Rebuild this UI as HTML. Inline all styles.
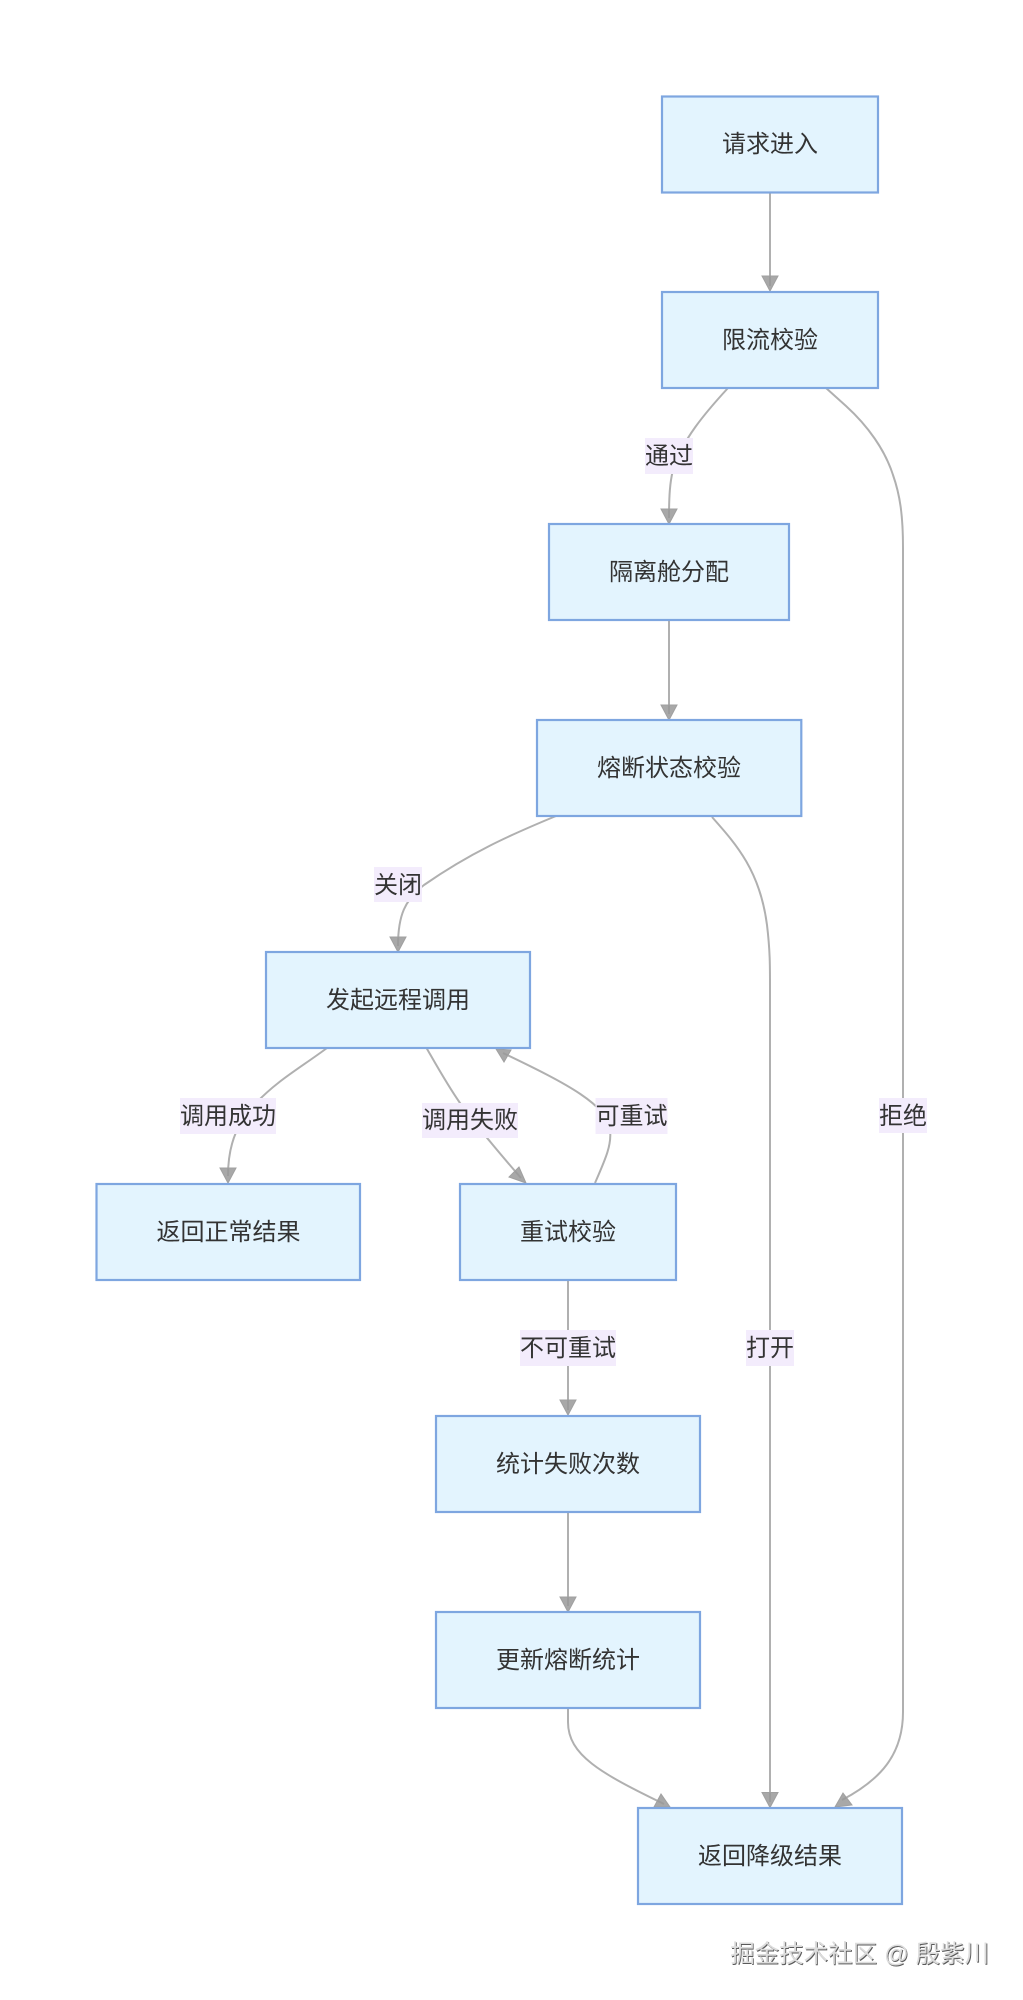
<!DOCTYPE html>
<html><head><meta charset="utf-8">
<style>
html,body{margin:0;padding:0;background:#fff;width:1023px;height:2000px;overflow:hidden}
svg{display:block}
text{font-family:"Liberation Sans","Noto Sans CJK SC",sans-serif;font-size:24px;fill:#333;text-anchor:middle}
.n{fill:#e3f4fe;stroke:#7ea6e0;stroke-width:2.2}
.e{fill:none;stroke:#b0b0b0;stroke-width:2}
.a{fill:#999;fill-opacity:.85;stroke:#a0a0a0;stroke-width:1}
.l{fill:#f3ecfc}
.w{font-size:24.5px;fill:#dcdcdc;text-anchor:start}
.ws{font-size:24.5px;fill:#5a5a5a;text-anchor:start}
</style></head><body>
<svg width="1023" height="2000" viewBox="0 0 1023 2000" xmlns="http://www.w3.org/2000/svg">
<!-- edges -->
<path class="e" d="M770 192V286"/>
<path class="e" d="M728 388C705 413 682 440 673 470C670 482 669 495 669 518"/>
<path class="e" d="M826 388L846 406C868 426 885 450 893 475C900 495 903 515 903 548V1712C903 1755 880 1780 842 1800"/>
<path class="e" d="M669 620V714"/>
<path class="e" d="M556 816C510 835 470 853 424 885C405 900 398 915 398 946"/>
<path class="e" d="M712 817C735 843 760 870 767 925C770 950 770 965 770 985V1802"/>
<path class="e" d="M327 1048C300 1068 278 1080 256 1103C240 1120 228 1140 228 1176"/>
<path class="e" d="M426.500 1048C438 1068 448 1086 460 1103C472 1120 495 1148 521 1178"/>
<path class="e" d="M595 1183C605 1160 612 1145 610 1130C607 1105 570 1085 503 1053"/>
<path class="e" d="M568 1280V1410"/>
<path class="e" d="M568 1512V1606"/>
<path class="e" d="M568 1708V1722C568 1755 600 1773 664 1804"/>
<!-- arrowheads -->
<polygon class="a" points="762,276 778,276 770,291"/>
<polygon class="a" points="661,509 677,509 669,524"/>
<polygon class="a" points="661,705 677,705 669,720"/>
<polygon class="a" points="390,937 406,937 398,952"/>
<polygon class="a" points="220,1168 236,1168 228,1183"/>
<polygon class="a" points="519,1167 509,1177 526,1183"/>
<polygon class="a" points="511,1050 504,1062 496,1049"/>
<polygon class="a" points="560,1400 576,1400 568,1415"/>
<polygon class="a" points="560,1597 576,1597 568,1612"/>
<polygon class="a" points="661,1794 654,1807 670,1807"/>
<polygon class="a" points="762,1792.500 778,1792.500 770,1807.500"/>
<polygon class="a" points="843,1793 852,1805 835,1807"/>
<!-- nodes -->
<rect class="n" x="662" y="96.500" width="216" height="96"/>
<rect class="n" x="662" y="292" width="216" height="96"/>
<rect class="n" x="549" y="524" width="240" height="96"/>
<rect class="n" x="537" y="720" width="264.300" height="96"/>
<rect class="n" x="266" y="952" width="264" height="96"/>
<rect class="n" x="96.500" y="1184" width="263.500" height="96"/>
<rect class="n" x="460" y="1184" width="216" height="96"/>
<rect class="n" x="436" y="1416" width="264" height="96"/>
<rect class="n" x="436" y="1612" width="264" height="96"/>
<rect class="n" x="638" y="1808" width="264" height="96"/>
<!-- edge labels -->
<rect class="l" x="645" y="438" width="48" height="36"/>
<rect class="l" x="879" y="1098" width="48" height="35"/>
<rect class="l" x="374" y="867" width="48" height="35"/>
<rect class="l" x="746" y="1330" width="48" height="36"/>
<rect class="l" x="180" y="1098" width="96" height="36"/>
<rect class="l" x="422" y="1103" width="96" height="35"/>
<rect class="l" x="595.500" y="1098" width="72" height="36"/>
<rect class="l" x="520" y="1330" width="96" height="36"/>
<!-- text -->
<text x="770" y="152">请求进入</text>
<text x="770" y="348">限流校验</text>
<text x="669" y="580">隔离舱分配</text>
<text x="669" y="776">熔断状态校验</text>
<text x="398" y="1008">发起远程调用</text>
<text x="228.500" y="1240">返回正常结果</text>
<text x="568" y="1240">重试校验</text>
<text x="568" y="1472">统计失败次数</text>
<text x="568" y="1668">更新熔断统计</text>
<text x="770" y="1864">返回降级结果</text>
<text x="669" y="464">通过</text>
<text x="903" y="1124">拒绝</text>
<text x="398" y="893">关闭</text>
<text x="770" y="1356">打开</text>
<text x="228" y="1124">调用成功</text>
<text x="470" y="1128">调用失败</text>
<text x="631.500" y="1124">可重试</text>
<text x="568" y="1356">不可重试</text>
<!-- watermark -->
<text class="ws" x="731" y="1963">掘金技术社区 @ 殷紫川</text>
<text class="w" x="730.200" y="1962">掘金技术社区 @ 殷紫川</text>
</svg>
</body></html>
